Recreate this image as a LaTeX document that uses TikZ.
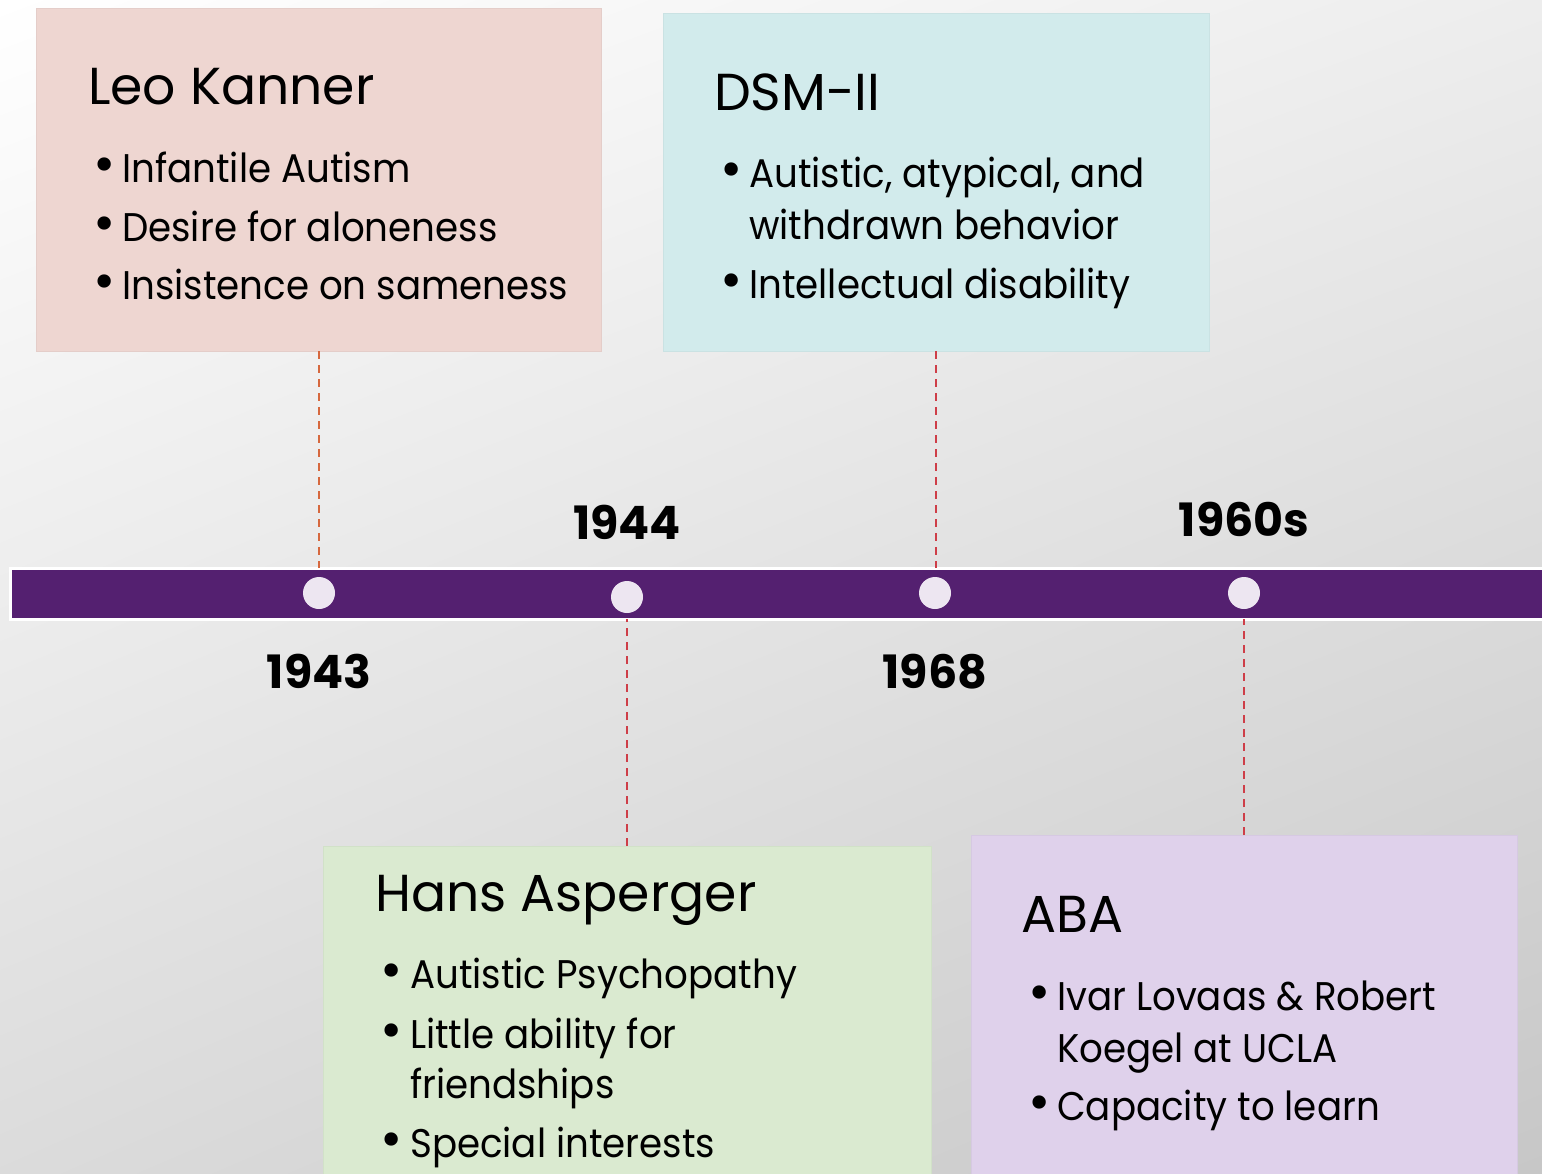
\documentclass[tikz,border=0pt]{standalone}
\usepackage{fontspec}
\setmainfont{Poppins}
\newfontfamily\itemfont[FakeStretch=0.93]{Poppins}
\usetikzlibrary{calc}
\usetikzlibrary{shadings}

\definecolor{barpurple}{RGB}{84,32,112}
\definecolor{dotfill}{RGB}{237,230,241}
\definecolor{kannerbox}{RGB}{238,214,209}
\definecolor{dsmbox}{RGB}{210,235,236}
\definecolor{aspbox}{RGB}{218,234,208}
\definecolor{ababox}{RGB}{223,209,235}
\definecolor{linkorange}{RGB}{214,104,62}
\definecolor{linkred}{RGB}{206,62,72}

\begin{document}
\begin{tikzpicture}[x=1bp,y=-1bp,
  card/.style={fill=#1, draw=#1!96!black, line width=.8bp, anchor=north west, inner sep=0, outer sep=0},
  head/.style={anchor=base west, inner sep=0, font=\fontsize{52bp}{60bp}\selectfont},
  item/.style={anchor=base west, inner sep=0, font=\itemfont\fontsize{40bp}{48bp}\selectfont},
  bul/.style={anchor=base west, inner sep=0, font=\fontsize{54bp}{48bp}\selectfont},
  dot/.style={circle, fill=dotfill, inner sep=0, minimum size=32bp},
  year/.style={anchor=base, inner sep=0, font=\fontsize{46bp}{50bp}\selectfont\bfseries},
  link/.style={dash pattern=on 8bp off 6bp, line width=2bp, #1}]

\clip (0,0) rectangle (1542,1173);
\shade[upper left=white, upper right=black!7, lower left=black!14, lower right=black!22] (0,0) rectangle (1542,1173);

% boxes
\node[card=kannerbox, minimum width=565bp, minimum height=343bp] (kanner) at (36,8) {};
\node[card=dsmbox, minimum width=546bp, minimum height=338bp] (dsm) at (663,13) {};
\node[card=aspbox, minimum width=608bp, minimum height=360bp] (asp) at (323,846) {};
\node[card=ababox, minimum width=546bp, minimum height=370bp] (aba) at (971,835) {};

% timeline bar
\node[fill=barpurple, draw=white, line width=3bp, anchor=north west, inner sep=0, outer sep=0, minimum width=1560bp, minimum height=51bp] (bar) at (10,568) {};

\draw[link=linkorange] (kanner.south) -- (kanner.south |- bar.north);
\draw[link=linkred] (dsm.south) -- (dsm.south |- bar.north);
\draw[link=linkred] (asp.north) -- (asp.north |- bar.south);
\draw[link=linkred] (aba.north) -- (aba.north |- bar.south);

\node[dot] (d43) at (319,593) {};
\node[dot] (d44) at (627,597) {};
\node[dot] (d68) at (935,593) {};
\node[dot] (d60) at (1244,593) {};

\node[year] (y43) at (319,688) {1943};
\node[year] (y44) at (627,539) {1944};
\node[year] (y68) at (935,688) {1968};
\node[year] (y60) at (1244,536) {1960s};

% texts
\node[head] (kanner-t) at (88,104) {Leo Kanner};
\foreach \y/\t [count=\i] in {182/Infantile Autism, 241/Desire for aloneness, 299/Insistence on sameness}
  {\node[bul] (kanner-b\i) at (93,\y) {•}; \node[item] (kanner-\i) at (122,\y) {\t};}

\node[head] (dsm-t) at (714,110) {DSM-II};
\node[bul] (dsm-b1) at (720,187) {•};
\node[item] (dsm-1) at (749,187) {Autistic, atypical, and};
\node[item] (dsm-1a) at (749,239) {withdrawn behavior};
\node[bul] (dsm-b2) at (720,298) {•};
\node[item] (dsm-2) at (749,298) {Intellectual disability};

\node[head] (asp-t) at (375,911) {Hans Asperger};
\node[bul] (asp-b1) at (380,988) {•};
\node[item] (asp-1) at (410,988) {Autistic Psychopathy};
\node[bul] (asp-b2) at (380,1048) {•};
\node[item] (asp-2) at (410,1048) {Little ability for};
\node[item] (asp-2a) at (410,1098) {friendships};
\node[bul] (asp-b3) at (380,1157) {•};
\node[item] (asp-3) at (410,1157) {Special interests};

\node[head] (aba-t) at (1021,932) {ABA};
\node[bul] (aba-b1) at (1028,1010) {•};
\node[item] (aba-1) at (1057,1010) {Ivar Lovaas \& Robert};
\node[item] (aba-1a) at (1057,1062) {Koegel at UCLA};
\node[bul] (aba-b2) at (1028,1120) {•};
\node[item] (aba-2) at (1057,1120) {Capacity to learn};

\end{tikzpicture}
\end{document}
